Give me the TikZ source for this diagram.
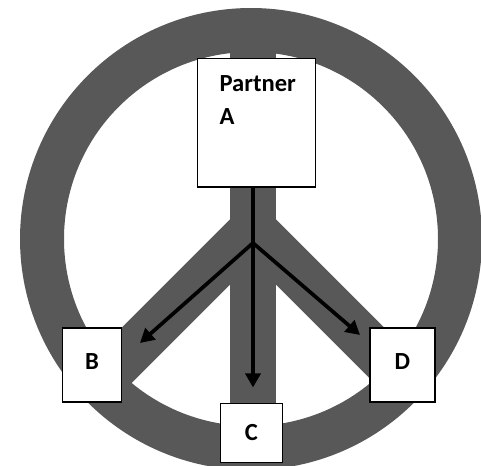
\documentclass[tikz,border=0pt]{standalone}
\usepackage{fontspec}
\setmainfont{Carlito}
\usetikzlibrary{arrows.meta}
\definecolor{signgray}{RGB}{88,88,88}

\begin{document}
\begin{tikzpicture}[x=0.02cm,y=-0.02cm,
	peer_node/.style={rectangle,fill=white,draw=black,line width=0.7pt,inner sep=0pt,
		font=\fontsize{14}{19}\selectfont\bfseries},
	sign_bar/.style={draw=signgray,line width=0.92cm},
	flow_arrow/.style={line width=2.1pt,-{Triangle[length=8pt,width=8.5pt]}}]

		\path[use as bounding box,clip] (0,0) rectangle (481,466);

		% peace sign behind the boxes
		\draw[signgray,line width=0.88cm] (251,239) circle (209);
		\draw[sign_bar] (253,30) -- (253,448);
		\draw[sign_bar] (253,229) -- (103,379);
		\draw[sign_bar] (253,229) -- (403,379);

		\node[peer_node,anchor=north west,align=left,inner xsep=12.5pt,inner ysep=9.6pt,
			text width=42pt,text height=9pt,text depth=44.9pt] (A) at (197,58) {Partner\\A};
		\node[peer_node,minimum width=34pt,minimum height=42pt,text depth=4pt] (B) at (92,365) {B};
		\node[peer_node,minimum width=35.7pt,minimum height=34pt] (C) at (251.5,433) {C};
		\node[peer_node,minimum width=36.9pt,minimum height=42pt,text depth=4pt] (D) at (402.5,365) {D};

		\coordinate (split) at (253,243);
		\coordinate (tipB) at (140,343);
		\coordinate (tipD) at (360,335);

		\draw[flow_arrow,shorten >=0.3cm] (A.south -| split) -- (C.north -| split);
		\draw[flow_arrow] (split) -- (tipB);
		\draw[flow_arrow] (split) -- (tipD);
		\end{tikzpicture}
\end{document}
